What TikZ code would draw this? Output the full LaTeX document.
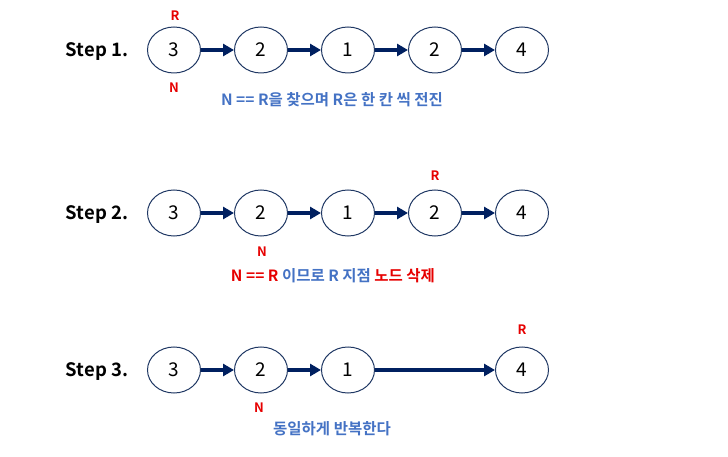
\documentclass[tikz,border=0pt]{standalone}
\usepackage{fontspec}
\setmainfont{Noto Sans CJK KR}[BoldFont={* Bold}]
\usetikzlibrary{arrows.meta,shapes.geometric}
\definecolor{linknavy}{RGB}{0,32,96}
\definecolor{edgeblue}{RGB}{32,56,100}
\definecolor{noteblue}{RGB}{68,114,196}
\definecolor{ptrred}{RGB}{230,0,0}
\tikzset{
	listnode/.style={ellipse, draw=edgeblue, line width=1pt, minimum width=53pt, minimum height=46pt, inner sep=0pt, font=\fontsize{19}{21}\selectfont},
	link/.style={draw=linknavy, line width=3.5pt, -{Triangle[length=11pt,width=12pt]}},
	steplabel/.style={font=\fontsize{18.5}{21}\selectfont\bfseries},
	ptr/.style={text=ptrred, font=\fontsize{13}{15}\selectfont\bfseries},
	note/.style={text=noteblue, font=\fontsize{15.5}{17}\selectfont\bfseries}
}

\begin{document}
\begin{tikzpicture}[x=1pt, y=-1pt]
	\useasboundingbox (0,0) rectangle (728,457);
	% Step 1
	\node[steplabel] (stepA) at (97,52) {Step 1.};
	\node[listnode] (a1) at (174,50) {3};
	\node[listnode] (a2) at (261,50) {2};
	\node[listnode] (a3) at (348,50) {1};
	\node[listnode] (a4) at (435,50) {2};
	\node[listnode] (a5) at (522,50) {4};
	\draw[link] (a1) -- (a2);
	\draw[link] (a2) -- (a3);
	\draw[link] (a3) -- (a4);
	\draw[link] (a4) -- (a5);
	\node[ptr] (aR) at (175,16) {R};
	\node[ptr] (aN) at (174,88) {N};
	\node[note] (noteA) at (332,100) {N == R을 찾으며 R은 한 칸 씩 전진};
	% Step 2
	\node[steplabel] (stepB) at (97,215) {Step 2.};
	\node[listnode] (b1) at (174,213) {3};
	\node[listnode] (b2) at (261,213) {2};
	\node[listnode] (b3) at (348,213) {1};
	\node[listnode] (b4) at (435,213) {2};
	\node[listnode] (b5) at (522,213) {4};
	\draw[link] (b1) -- (b2);
	\draw[link] (b2) -- (b3);
	\draw[link] (b3) -- (b4);
	\draw[link] (b4) -- (b5);
	\node[ptr] (bR) at (435,176) {R};
	\node[ptr] (bN) at (262,252) {N};
	\node[note] (noteB) at (333,276) {\textcolor{ptrred}{N == R} 이므로 R 지점 \textcolor{ptrred}{노드 삭제}};
	% Step 3
	\node[steplabel] (stepC) at (97,372) {Step 3.};
	\node[listnode] (c1) at (174,370) {3};
	\node[listnode] (c2) at (261,370) {2};
	\node[listnode] (c3) at (348,370) {1};
	\node[listnode] (c4) at (522,370) {4};
	\draw[link] (c1) -- (c2);
	\draw[link] (c2) -- (c3);
	\draw[link] (c3) -- (c4);
	\node[ptr] (cR) at (522,330) {R};
	\node[ptr] (cN) at (259,408) {N};
	\node[note] (noteC) at (332,429) {동일하게 반복한다};
\end{tikzpicture}
\end{document}
